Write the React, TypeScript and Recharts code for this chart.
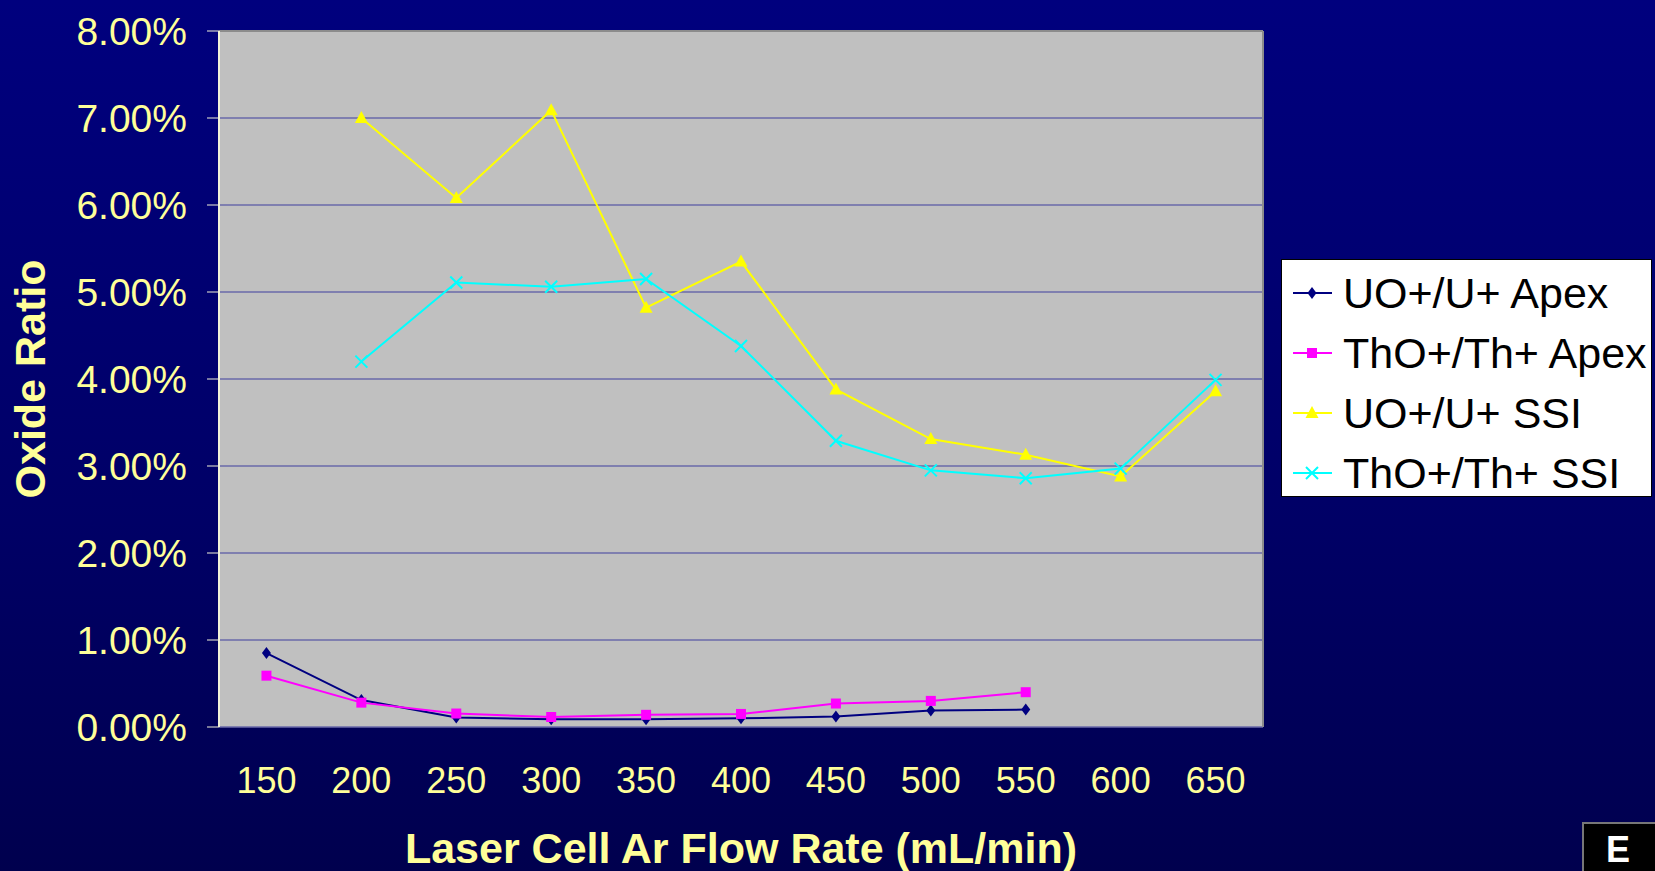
import React from "react";
import { CartesianGrid, Label, Legend, Line, LineChart, ReferenceLine, XAxis, YAxis } from "recharts";

const flows = [150, 200, 250, 300, 350, 400, 450, 500, 550, 600, 650];
const uApex = [0.85, 0.31, 0.11, 0.09, 0.09, 0.1, 0.12, 0.19, 0.2, null, null];
const thApex = [0.59, 0.28, 0.155, 0.115, 0.14, 0.15, 0.27, 0.3, 0.4, null, null];
const uSsi = [null, 7.0, 6.08, 7.09, 4.82, 5.35, 3.88, 3.31, 3.13, 2.88, 3.86];
const thSsi = [null, 4.2, 5.11, 5.06, 5.15, 4.38, 3.29, 2.95, 2.86, 2.97, 3.99];
const yTicks = [0, 1, 2, 3, 4, 5, 6, 7, 8];

const data = flows.map((flow, i) => ({
  flow,
  uApex: uApex[i],
  thApex: thApex[i],
  uSsi: uSsi[i],
  thSsi: thSsi[i]
}));

// tick marks sit between the categories, like Excel
const step = flows[1] - flows[0];
const bounds = [...flows.map((f) => f - step / 2), flows[flows.length - 1] + step / 2];

const TEXT = "#FFFF99";
const FONT = "'Liberation Sans', Arial, sans-serif";

const series = [
  { key: "uApex", name: "UO+/U+ Apex", color: "#000080", shape: "diamond" },
  { key: "thApex", name: "ThO+/Th+ Apex", color: "#FF00FF", shape: "square" },
  { key: "uSsi", name: "UO+/U+ SSI", color: "#FFFF00", shape: "triangle" },
  { key: "thSsi", name: "ThO+/Th+ SSI", color: "#00FFFF", shape: "cross" }
];

function Marker({ shape, color, x, y }: { shape: string; color: string; x: number; y: number }) {
  if (shape === "diamond")
    return <path d={`M${x},${y - 6}L${x + 4.5},${y}L${x},${y + 6}L${x - 4.5},${y}Z`} fill={color} />;
  if (shape === "square") return <rect x={x - 5} y={y - 5} width={10} height={10} fill={color} />;
  if (shape === "triangle")
    return <path d={`M${x},${y - 7}L${x + 6.5},${y + 5}L${x - 6.5},${y + 5}Z`} fill={color} />;
  return (
    <path
      d={`M${x - 6},${y - 6}L${x + 6},${y + 6}M${x - 6},${y + 6}L${x + 6},${y - 6}`}
      stroke={color}
      strokeWidth={2}
    />
  );
}

function makeDot(shape: string, color: string) {
  return (props: any) => {
    const { cx, cy, index } = props;
    if (cx == null || cy == null || props.value == null) return <g key={index} />;
    return (
      <g key={index}>
        <Marker shape={shape} color={color} x={cx} y={cy} />
      </g>
    );
  };
}

function LegendBox() {
  return (
    <div
      style={{
        background: "#FFFFFF",
        border: "1px solid #000",
        width: 371,
        height: 238,
        boxSizing: "border-box",
        paddingTop: 3
      }}
    >
      {series.map((s) => (
        <div key={s.key} style={{ display: "flex", alignItems: "center", height: 60 }}>
          <svg width={61} height={20} style={{ flex: "none" }}>
            <line x1={11} y1={10} x2={50} y2={10} stroke={s.color} strokeWidth={2} />
            <Marker shape={s.shape} color={s.color} x={30} y={10} />
          </svg>
          <span style={{ fontFamily: FONT, fontSize: 43, color: "#000", whiteSpace: "nowrap" }}>{s.name}</span>
        </div>
      ))}
    </div>
  );
}

export default function App() {
  return (
    <div
      style={{
        position: "fixed",
        left: 0,
        top: 0,
        width: 1655,
        height: 871,
        background: "linear-gradient(180deg, #00007E 0%, #000066 60%, #00004E 100%)",
        overflow: "hidden"
      }}
    >
      <LineChart width={1655} height={871} data={data} margin={{ top: 31, right: 21, bottom: 0, left: 0 }}>
        <CartesianGrid vertical={false} fill="#C0C0C0" stroke="#6A6AAA" strokeWidth={1.5} fillOpacity={1} />
        <XAxis
          xAxisId="marks"
          type="number"
          dataKey="flow"
          domain={[bounds[0], bounds[bounds.length - 1]]}
          ticks={bounds}
          tick={false}
          tickSize={11}
          height={0}
          stroke="#F2F2D8"
          axisLine={{ stroke: "#F2F2D8", strokeWidth: 2 }}
        />
        <XAxis
          xAxisId="labels"
          type="number"
          dataKey="flow"
          domain={[bounds[0], bounds[bounds.length - 1]]}
          ticks={flows}
          tickLine={false}
          axisLine={false}
          tickSize={11}
          tickMargin={29}
          height={144}
          tick={{ fill: TEXT, fontSize: 36, fontFamily: FONT }}
        >
          <Label
            content={(props: any) => {
              const vb = props.viewBox;
              return (
                <text
                  x={vb.x + vb.width / 2}
                  y={863}
                  textAnchor="middle"
                  fill={TEXT}
                  fontSize={43}
                  fontWeight="bold"
                  fontFamily={FONT}
                >
                  Laser Cell Ar Flow Rate (mL/min)
                </text>
              );
            }}
          />
        </XAxis>
        <YAxis
          domain={[0, 8]}
          ticks={yTicks}
          width={219}
          tickSize={12}
          tickMargin={20}
          tickFormatter={(v: number) => `${v.toFixed(2)}%`}
          tick={{ fill: TEXT, fontSize: 39, fontFamily: FONT }}
          stroke="#F2F2D8"
          axisLine={{ stroke: "#F2F2D8", strokeWidth: 2 }}
        >
          <Label
            content={(props: any) => {
              const vb = props.viewBox;
              const cx = 30;
              const cy = vb.y + vb.height / 2;
              return (
                <text
                  x={cx}
                  y={cy}
                  transform={`rotate(-90 ${cx} ${cy})`}
                  textAnchor="middle"
                  dominantBaseline="central"
                  fill={TEXT}
                  fontSize={43}
                  fontWeight="bold"
                  fontFamily={FONT}
                >
                  Oxide Ratio
                </text>
              );
            }}
          />
        </YAxis>
        <ReferenceLine y={8} xAxisId="labels" stroke="#8C8C8C" strokeWidth={2} />
        <ReferenceLine x={bounds[bounds.length - 1]} xAxisId="labels" stroke="#8C8C8C" strokeWidth={2} />
        {series.map((s) => (
          <Line
            key={s.key}
            xAxisId="labels"
            dataKey={s.key}
            name={s.name}
            stroke={s.color}
            strokeWidth={2}
            dot={makeDot(s.shape, s.color)}
            activeDot={false}
            isAnimationActive={false}
          />
        ))}
        <Legend
          layout="vertical"
          align="right"
          verticalAlign="middle"
          content={() => <LegendBox />}
          wrapperStyle={{ position: "absolute", left: 1281, top: 259, width: 371 }}
        />
      </LineChart>
      <div
        style={{
          position: "absolute",
          left: 1582,
          top: 822,
          width: 80,
          height: 60,
          background: "#000",
          border: "2px solid #777",
          overflow: "hidden"
        }}
      >
        <span
          style={{
            position: "absolute",
            left: 22,
            top: 8,
            color: "#fff",
            fontFamily: FONT,
            fontWeight: "bold",
            fontSize: 36,
            lineHeight: "36px"
          }}
        >
          E
        </span>
      </div>
    </div>
  );
}
